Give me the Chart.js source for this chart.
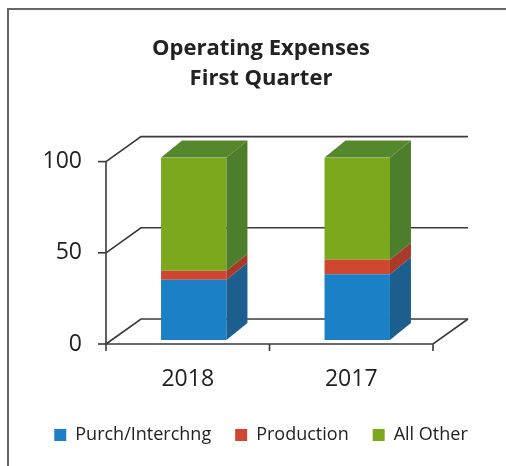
<!DOCTYPE html>
<html>
<head>
<meta charset="utf-8">
<script src="https://cdn.jsdelivr.net/npm/chart.js@4.4.0/dist/chart.umd.min.js"></script>
<style>
    html, body { margin: 0; padding: 0; background: #fff; }
    #wrap { width: 506px; height: 466px; position: relative; }
</style>
</head>
<body>
<div id="wrap"><canvas id="myChart" width="506" height="466"></canvas></div>
<script>
const years = ["2018", "2017"];
const purch = [33, 36];
const production = [5, 8];
const allOther = [62, 56];
const yTicks = [0, 50, 100];

const frontColors = ["#1b80c6", "#cf4631", "#7ca81e"];
const sideColors = ["#1c5e8e", "#a83a2a", "#4d7e2b"];
const topColor = "#55872c";

// depth of the floor / back wall, and of the bars
const wallDx = 35, wallDy = -25;
const barDx = 21, barDy = -17;
const shiftX = 6, shiftY = -4;

const box3d = {
    id: "box3d",
    beforeDraw(chart) {
        const c = chart.ctx;
        c.save();
        c.fillStyle = "#fff";
        c.fillRect(0, 0, chart.width, chart.height);
        c.strokeStyle = "#666";
        c.lineWidth = 2;
        c.beginPath();
        c.moveTo(8, chart.height);
        c.lineTo(8, 9);
        c.lineTo(chart.width, 9);
        c.stroke();
        c.restore();
    },
    beforeDatasetsDraw(chart) {
        const c = chart.ctx;
        const a = chart.chartArea;
        const ys = chart.scales.y;
        c.save();
        c.strokeStyle = "#3a3a3a";
        c.lineWidth = 1.6;
        yTicks.forEach(function (v) {
            const y = ys.getPixelForValue(v);
            c.beginPath();
            c.moveTo(a.left, y);
            c.lineTo(a.left + wallDx, y + wallDy);
            c.lineTo(a.right + wallDx, y + wallDy);
            c.stroke();
            c.beginPath();
            c.moveTo(a.left - 8, y);
            c.lineTo(a.left, y);
            c.stroke();
        });
        const y0 = ys.getPixelForValue(0);
        c.beginPath();
        c.moveTo(a.left, ys.getPixelForValue(100));
        c.lineTo(a.left, y0 + 7);
        c.moveTo(a.left, y0);
        c.lineTo(a.right, y0);
        c.lineTo(a.right + wallDx, y0 + wallDy);
        c.moveTo((a.left + a.right) / 2, y0);
        c.lineTo((a.left + a.right) / 2, y0 + 7);
        c.moveTo(a.right, y0);
        c.lineTo(a.right, y0 + 7);
        c.stroke();
        c.restore();

        c.save();
        c.translate(shiftX, shiftY);
    },
    afterDatasetsDraw(chart) {
        const c = chart.ctx;
        const last = chart.data.datasets.length - 1;
        chart.data.datasets.forEach(function (ds, i) {
            chart.getDatasetMeta(i).data.forEach(function (bar) {
                const p = bar.getProps(["x", "y", "base", "width"], true);
                const l = p.x - p.width / 2, r = p.x + p.width / 2;
                c.fillStyle = sideColors[i];
                c.beginPath();
                c.moveTo(r, p.y);
                c.lineTo(r + barDx, p.y + barDy);
                c.lineTo(r + barDx, p.base + barDy);
                c.lineTo(r, p.base);
                c.closePath();
                c.fill();
                if (i === last) {
                    c.fillStyle = topColor;
                    c.beginPath();
                    c.moveTo(l, p.y);
                    c.lineTo(l + barDx, p.y + barDy);
                    c.lineTo(r + barDx, p.y + barDy);
                    c.lineTo(r, p.y);
                    c.closePath();
                    c.fill();
                }
            });
        });
        c.restore();
    }
};

const ctx = document.getElementById("myChart").getContext("2d");
new Chart(ctx, {
    type: "bar",
    data: {
        labels: years,
        datasets: [
            { label: "Purch/Interchng", data: purch, backgroundColor: frontColors[0] },
            { label: "Production", data: production, backgroundColor: frontColors[1] },
            { label: "All Other", data: allOther, backgroundColor: frontColors[2] }
        ]
    },
    options: {
        responsive: false,
        animation: false,
        layout: { padding: { left: 16, right: 0, top: 0, bottom: 12 } },
        datasets: { bar: { barPercentage: 0.4, categoryPercentage: 1 } },
        scales: {
            x: {
                stacked: true,
                grid: { display: false },
                border: { display: false },
                ticks: { color: "#222", font: { family: "Open Sans", size: 23 }, padding: 14 },
                afterFit(s) { s.height = 58; }
            },
            y: {
                stacked: true,
                min: 0,
                max: 100,
                grid: { display: false },
                border: { display: false },
                ticks: { stepSize: 50, color: "#222", font: { family: "Open Sans", size: 23 }, padding: 16 },
                afterFit(s) { s.width = 90; }
            },
            yR: {
                position: "right",
                grid: { display: false },
                border: { display: false },
                ticks: { display: false },
                afterFit(s) { s.width = 73; }
            }
        },
        plugins: {
            title: {
                display: true,
                text: ["Operating Expenses", "First Quarter"],
                color: "#222",
                font: { family: "Open Sans", size: 22, weight: "bold", lineHeight: 1.4 },
                padding: { top: 33, bottom: 67 }
            },
            legend: {
                position: "bottom",
                labels: {
                    color: "#222",
                    boxWidth: 12,
                    boxHeight: 12,
                    padding: 24,
                    font: { family: "Open Sans", size: 18 }
                }
            },
            tooltip: { enabled: false }
        }
    },
    plugins: [box3d]
});
</script>
</body>
</html>
